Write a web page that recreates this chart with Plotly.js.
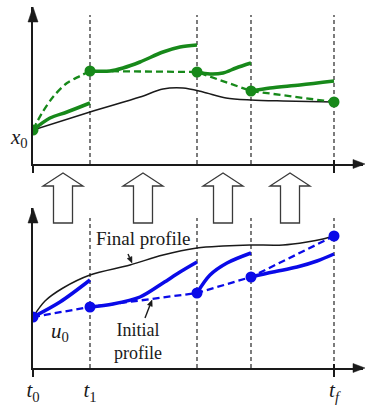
<!DOCTYPE html>
<html><head><meta charset="utf-8">
<script src="https://cdn.plot.ly/plotly-3.0.1.min.js"></script>
<style>html,body{margin:0;padding:0;background:#fff}</style>
</head><body><div id="chart" style="width:366px;height:410px"></div>
<script>
// switching times shared by both panels
const tNodes = [0, 5.7, 16.4, 21.8, 30.1];
const tickIndex = [0, 1, 4];
const tickLabels = ['<i>t</i><sub>0</sub>', '<i>t</i><sub>1</sub>', '<i>t</i><sub><i>f</i></sub>'];

// top panel: state x(t)
const xNodes = [3.4, 9.3, 9.2, 7.3, 6.2];
const xGuessLeg1T = [0, 0.9, 2.0, 3.4, 4.7, 5.7];
const xGuessLeg1 = [3.4, 5.1, 6.7, 8.1, 8.8, 9.3];
const xSeg1T = [0, 1.7, 3.4, 5.7];
const xSeg1 = [3.4, 4.6, 5.2, 6.1];
const xSeg2T = [5.7, 7.7, 9.0, 10.7, 13.0, 14.7, 16.4];
const xSeg2 = [9.3, 9.3, 9.6, 10.2, 11.2, 11.7, 11.9];
const xSeg3T = [16.4, 17.7, 19.0, 20.3, 21.8];
const xSeg3 = [9.2, 9.0, 9.1, 9.6, 10.1];
const xSeg4T = [21.8, 23.7, 26.7, 30.1];
const xSeg4 = [7.3, 7.6, 7.9, 8.3];
const xFinalT = [0, 5.7, 10.7, 13.0, 15.0, 17.0, 19.3, 21.8, 25.0, 30.1];
const xFinal = [3.4, 5.2, 6.7, 7.5, 7.6, 7.2, 6.6, 6.4, 6.3, 6.2];

// bottom panel: control u(t)
const uNodes = [5.1, 6.1, 7.5, 9.1, 13.2];
const uSeg1T = [0, 2.7, 5.7];
const uSeg1 = [5.1, 6.6, 8.8];
const uSeg2T = [5.7, 8.0, 10.7, 13.0, 14.7, 16.4];
const uSeg2 = [6.1, 6.4, 7.1, 8.5, 9.6, 10.6];
const uSeg3T = [16.4, 17.7, 19.4, 21.8];
const uSeg3 = [7.5, 9.3, 10.5, 11.5];
const uSeg4T = [21.8, 24.0, 26.4, 28.4, 30.1];
const uSeg4 = [9.1, 9.6, 10.1, 10.7, 11.4];
const uFinalT = [0, 1.2, 3.0, 5.7, 9.7, 13.0, 16.4, 19.0, 21.7, 25.0, 27.4, 29.0, 30.1];
const uFinal = [5.1, 6.7, 8.0, 9.3, 10.3, 11.3, 12.0, 12.2, 12.3, 12.3, 12.6, 12.9, 13.2];

const GREEN = '#17891a', BLUE = '#0a0ae8', INK = '#1a1a1a', GRID = '#454545';
const SERIF = 'Liberation Serif';

function line(t, v, xa, ya, color, width, dash, shape) {
  return {x: t, y: v, xaxis: xa, yaxis: ya, mode: 'lines', hoverinfo: 'skip',
    line: {color: color, width: width, dash: dash || 'solid', shape: shape || 'spline', smoothing: 0.9}};
}
function pts(t, v, xa, ya, color) {
  return {x: t, y: v, xaxis: xa, yaxis: ya, mode: 'markers', hoverinfo: 'skip',
    marker: {color: color, size: 11}};
}
const DASH = '7px,4px';
const traces = [
  line(xFinalT, xFinal, 'x', 'y', INK, 1.5),
  line(xGuessLeg1T, xGuessLeg1, 'x', 'y', GREEN, 2.3, DASH),
  line(tNodes.slice(1), xNodes.slice(1), 'x', 'y', GREEN, 2.3, DASH, 'linear'),
  line(xSeg1T, xSeg1, 'x', 'y', GREEN, 3.5),
  line(xSeg2T, xSeg2, 'x', 'y', GREEN, 3.5),
  line(xSeg3T, xSeg3, 'x', 'y', GREEN, 3.5),
  line(xSeg4T, xSeg4, 'x', 'y', GREEN, 3.5),
  pts(tNodes, xNodes, 'x', 'y', GREEN),
  line(uFinalT, uFinal, 'x2', 'y2', INK, 1.5),
  line(tNodes, uNodes, 'x2', 'y2', BLUE, 2.3, DASH, 'linear'),
  line(uSeg1T, uSeg1, 'x2', 'y2', BLUE, 3.5),
  line(uSeg2T, uSeg2, 'x2', 'y2', BLUE, 3.5),
  line(uSeg3T, uSeg3, 'x2', 'y2', BLUE, 3.5),
  line(uSeg4T, uSeg4, 'x2', 'y2', BLUE, 3.5),
  pts(tNodes, uNodes, 'x2', 'y2', BLUE)
];

// pixel <-> paper helpers for decorations
const W = 366, H = 410, L = 33, R = 3, T = 5, B = 42;
const pw = W - L - R, ph = H - T - B;
const PX = p => (p - L) / pw;
const PY = p => (H - B - p) / ph;
const TX = t => L + t * pw / 33;        // data t -> pixel x
const UY = u => (H - B) - u * 160 / 16; // bottom-panel data -> pixel y
function poly(ptsArr, fill, lc, lw) {
  const d = ptsArr.map((p, i) => (i ? 'L' : 'M') + PX(p[0]).toFixed(4) + ',' + PY(p[1]).toFixed(4)).join(' ') + ' Z';
  return {type: 'path', xref: 'paper', yref: 'paper', path: d, fillcolor: fill, line: {color: lc, width: lw}, layer: 'above'};
}
function seg(x0, y0, x1, y1, w) {
  return {type: 'line', xref: 'paper', yref: 'paper', x0: PX(x0), y0: PY(y0), x1: PX(x1), y1: PY(y1), line: {color: INK, width: w}, layer: 'above'};
}
const shapes = [];
// vertical dashed lines at switching times
tNodes.slice(1).forEach(t => {
  shapes.push({type: 'line', xref: 'x', yref: 'y', x0: t, x1: t, y0: 0, y1: 14.9, line: {color: GRID, width: 1.4, dash: '4px,3px'}, layer: 'below'});
  shapes.push({type: 'line', xref: 'x2', yref: 'y2', x0: t, x1: t, y0: 0, y1: 15.0, line: {color: GRID, width: 1.4, dash: '4px,3px'}, layer: 'below'});
});
// axis arrowheads and ticks
[[164, 7], [368, 208]].forEach(([axY, tipY]) => {
  shapes.push(poly([[L - 5, tipY + 15], [L, tipY], [L + 5, tipY + 15]], INK, INK, 0.5));
  shapes.push(poly([[353, axY - 4.5], [365, axY], [353, axY + 4.5]], INK, INK, 0.5));
  shapes.push(seg(L, axY, L, axY + 9, 2));
  const tf = TX(tNodes[4]);
  shapes.push(seg(tf, axY - 4, tf, axY + 9, 2));
});
// hollow block arrows between panels
[63, 143, 223, 290].forEach(c => {
  shapes.push(poly([[c - 9.5, 223], [c - 9.5, 186], [c - 20, 186], [c, 173], [c + 20, 186], [c + 9.5, 186], [c + 9.5, 223]], '#ffffff', '#3a3a3a', 1.3));
});
// small pointer arrows for the profile labels (tip given in bottom-panel data, tail offset in px)
function pointer(tipT, tipU, dx, dy) {
  const x1 = TX(tipT), y1 = UY(tipU), x0 = x1 + dx, y0 = y1 + dy;
  const len = Math.hypot(x1 - x0, y1 - y0), ux = (x1 - x0) / len, uy = (y1 - y0) / len;
  const hl = 6, hw = 2.6;
  const bx = x1 - ux * hl, by = y1 - uy * hl;
  shapes.push(seg(x0, y0, bx, by, 1.4));
  shapes.push(poly([[x1, y1], [bx - uy * hw, by + ux * hw], [bx + uy * hw, by - ux * hw]], INK, INK, 0.5));
}
pointer(9.9, 10.5, -4, -9);
pointer(11.9, 6.8, -7, 18);

const txt = (x, y, text, size, xr, yr, extra) => Object.assign({x: x, y: y, xref: xr || 'x2', yref: yr || 'y2', text: text, showarrow: false,
  font: {family: SERIF, size: size, color: INK}}, extra || {});

const annotations = [
  txt(11.0, 13.0, 'Final profile', 19),
  txt(10.5, 2.7, 'Initial<br>profile', 18),
  txt(2.7, 3.6, '<i>u</i><sub>0</sub>', 21),
  txt(0, 2.6, '<i>x</i><sub>0</sub>', 21, 'x', 'y', {xanchor: 'right', xshift: -3})
];

const axBase = {showgrid: false, zeroline: false, showline: true, linecolor: INK, linewidth: 2, ticks: '', fixedrange: true};
const layout = {
  width: W, height: H, margin: {l: L, r: R, t: T, b: B},
  paper_bgcolor: '#fff', plot_bgcolor: 'rgba(0,0,0,0)', showlegend: false,
  xaxis: Object.assign({}, axBase, {domain: [0, 1], range: [0, 33], anchor: 'y', showticklabels: false}),
  yaxis: Object.assign({}, axBase, {domain: [204 / ph, 361 / ph], range: [0, 15.7], anchor: 'x', showticklabels: false}),
  xaxis2: Object.assign({}, axBase, {domain: [0, 1], range: [0, 33], anchor: 'y2',
    tickmode: 'array', tickvals: tickIndex.map(i => tNodes[i]), ticktext: tickLabels, ticklabelstandoff: 2,
    tickfont: {family: SERIF, size: 21, color: INK}}),
  yaxis2: Object.assign({}, axBase, {domain: [0, 160 / ph], range: [0, 16], anchor: 'x2', showticklabels: false}),
  shapes: shapes, annotations: annotations
};
Plotly.newPlot('chart', traces, layout, {staticPlot: true, displayModeBar: false});
</script></body></html>
